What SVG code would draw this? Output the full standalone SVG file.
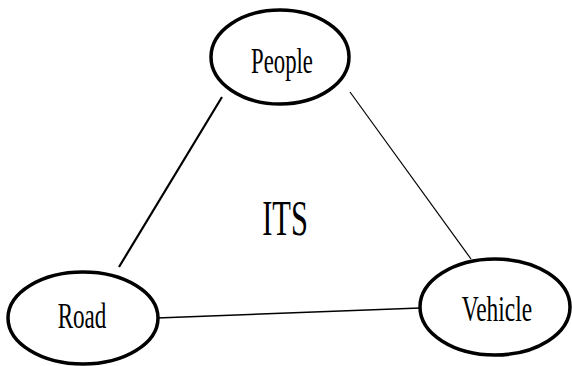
<svg xmlns="http://www.w3.org/2000/svg" width="572" height="366" viewBox="0 0 572 366">
<style>
.n{fill:#fff;stroke:#000;stroke-width:3.5}
.t{font-family:"Liberation Serif",serif;font-size:35px;text-anchor:middle;fill:#000}
.c{stroke:#000;fill:none}
</style>
<rect width="572" height="366" fill="#fff"/>
<g id="connectors">
<line class="c" x1="222" y1="97" x2="119" y2="267" stroke-width="2.2"/>
<line class="c" x1="350" y1="92" x2="471" y2="259" stroke-width="1.2" stroke="#333"/>
<line class="c" x1="157" y1="318" x2="420" y2="308" stroke-width="1.5" stroke="#333"/>
</g>
<g id="people">
<ellipse class="n" cx="280" cy="57" rx="69" ry="47"/>
<text class="t" transform="translate(282,73) scale(0.65,1)">People</text>
</g>
<g id="road">
<ellipse class="n" cx="83" cy="318" rx="75" ry="46"/>
<text class="t" transform="translate(82,328) scale(0.66,1)">Road</text>
</g>
<g id="vehicle">
<ellipse class="n" cx="495" cy="307" rx="75" ry="48"/>
<text class="t" transform="translate(497,321) scale(0.67,1)">Vehicle</text>
</g>
<g id="its">
<text class="t" style="font-size:50px" transform="translate(285,235) scale(0.61,1)">ITS</text>
</g>
</svg>
